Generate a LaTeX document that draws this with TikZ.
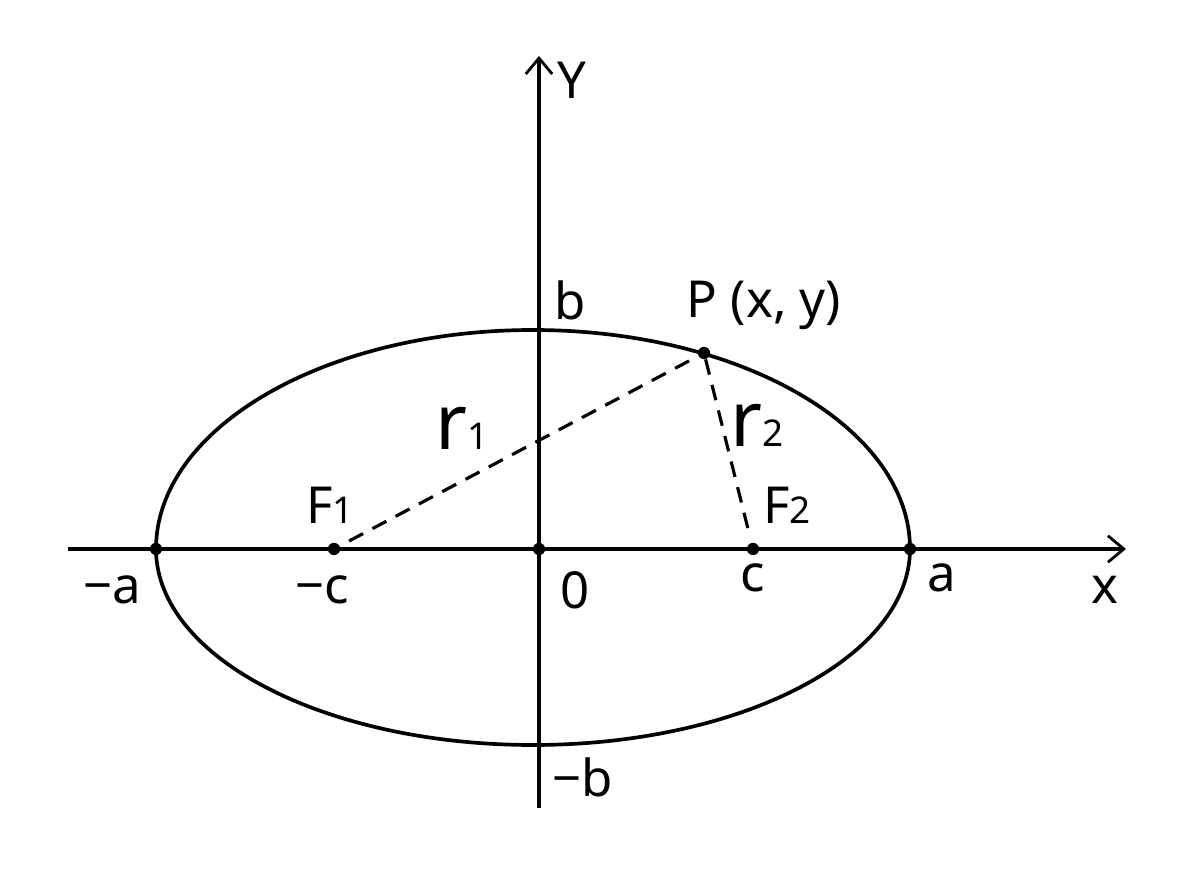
\documentclass[tikz,border=0pt]{standalone}
\usepackage{fontspec}
\setmainfont{Noto Sans}
\usetikzlibrary{arrows.meta}
\newcommand{\bigtxt}{\fontsize{29}{34}\selectfont}
\newcommand{\subtxt}[1]{{\fontsize{21}{24}\selectfont #1}}
\newcommand{\rtxt}[1]{{\fontsize{44}{48}\selectfont r}\subtxt{#1}}
\tikzstyle{dot}=[circle,fill=black,draw=none,inner sep=0pt,minimum size=7pt]
\tikzstyle{lbl}=[inner sep=0pt,font=\bigtxt]
\tikzstyle{ax}=[line width=2.1pt,-{Straight Barb[length=9pt,width=15pt,line width=1.6pt]}]
\tikzstyle{curve}=[line width=2.1pt]
\tikzstyle{dash line}=[line width=1.8pt,dash pattern=on 9pt off 6pt]
\tikzstyle{none}=[]

\begin{document}
\begin{tikzpicture}[x=0.02cm,y=0.02cm]
            \useasboundingbox (0, 0) rectangle (1200, 882);
            \node [style=none] (0) at (68, 333) {};
            \node [style=none] (1) at (1126, 333) {};
            \node [style=none] (2) at (539, 74) {};
            \node [style=none] (3) at (539, 826) {};
            \draw [style=ax] (0.center) to (1.center);
            \draw [style=ax] (2.center) to (3.center);
            \draw [style=curve] (910, 333) arc [start angle=0, end angle=180, x radius=377, y radius=219];
            \draw [style=curve] (910, 333) arc [start angle=0, end angle=-180, x radius=377, y radius=196];
            \node [style=dot] (4) at (156, 333) {};
            \node [style=dot] (5) at (334, 333) {};
            \node [style=dot] (6) at (539, 333) {};
            \node [style=dot] (7) at (753, 333) {};
            \node [style=dot] (8) at (910, 333) {};
            \node [style=dot] (9) at (704, 529) {};
            \draw [style=dash line, shorten <=6pt] (5) to (9);
            \draw [style=dash line, shorten >=4pt] (9) to (7);
            \node [style=lbl] (10) at (572, 802) {Y};
            \node [style=lbl] (11) at (570, 582) {b};
            \node [style=lbl] (12) at (764, 577) {P (x, y)};
            \node [style=lbl, anchor=base] (13) at (462, 432) {\rtxt{1}};
            \node [style=lbl, anchor=base] (14) at (757, 435) {\rtxt{2}};
            \node [style=lbl, anchor=base] (15) at (330, 358) {F\subtxt{1}};
            \node [style=lbl, anchor=base] (16) at (787, 358) {F\subtxt{2}};
            \node [style=lbl] (17) at (112, 292) {−a};
            \node [style=lbl] (18) at (322, 292) {−c};
            \node [style=lbl] (19) at (575, 292) {0};
            \node [style=lbl] (20) at (753, 304) {c};
            \node [style=lbl] (21) at (942, 304) {a};
            \node [style=lbl] (22) at (1105, 292) {x};
            \node [style=lbl] (23) at (583, 105) {−b};
\end{tikzpicture}
\end{document}
